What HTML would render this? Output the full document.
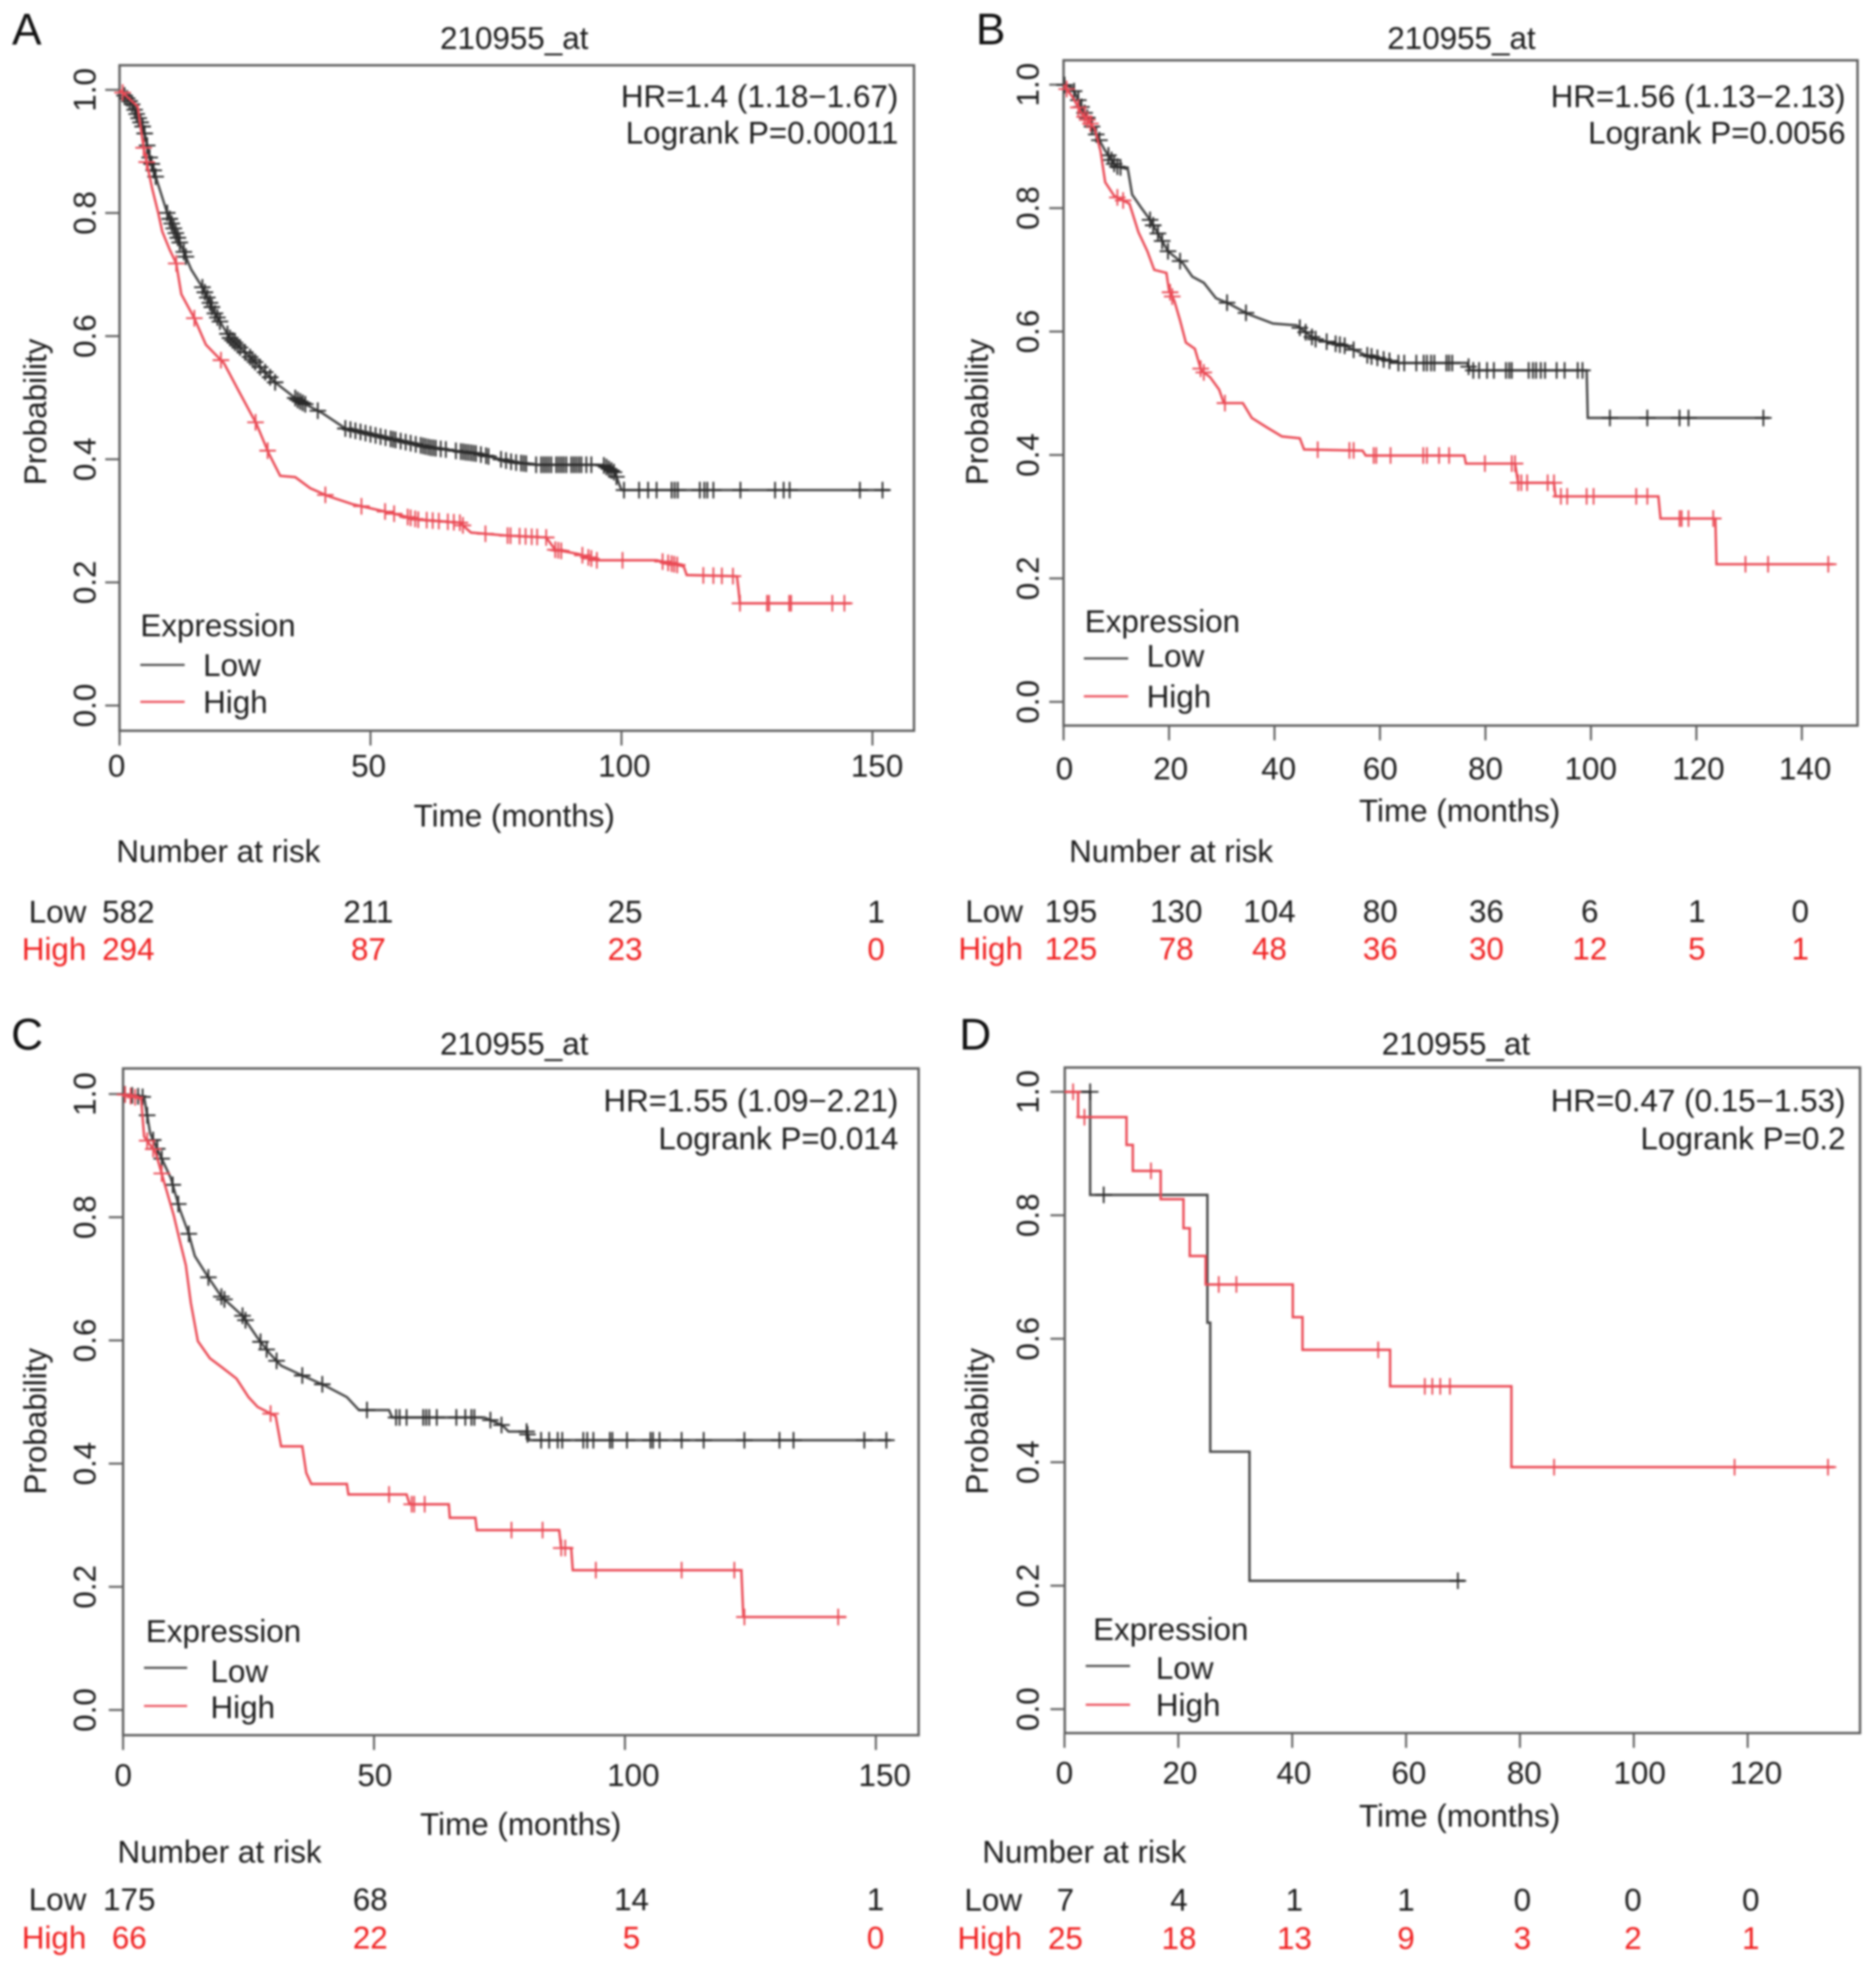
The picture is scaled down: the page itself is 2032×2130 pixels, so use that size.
<!DOCTYPE html>
<html lang="en">
<head>
<meta charset="utf-8">
<title>210955_at Kaplan-Meier survival curves</title>
<style>
html,body{margin:0;padding:0;background:#fff;}
#figure{display:block;width:2032px;height:2130px;filter:blur(1px);}
text{font-family:"Liberation Sans",Arial,sans-serif;font-size:34px;fill:#1c1c1c;}
</style>
</head>
<body>
<svg id="figure" xmlns="http://www.w3.org/2000/svg" width="2032" height="2130" viewBox="0 0 2032 2130"></svg>
<script>
// ---- Panel A data ----
const aLowTimes=[0,2.4,4.8,6,7.7,9.5,11.9,14.3,16.6,19,22,26,31,35.7,40.4,45,53.5,62,71.3,78.5,83.2,96.3,98.7,100,153.4];
const aLowProbs=[1,.978,.937,.89,.846,.8,.754,.708,.678,.637,.597,.566,.525,.495,.475,.45,.434,.419,.409,.395,.391,.391,.378,.35,.35];
const aLowCensor=[1,1.5,2,2.5,3,3.4,3.8,4.2,4.6,5,5.5,6,6.4,6.8,7.2,9.5,10,10.4,10.8,11.2,11.6,12,12.8,13.2,16.5,17,17.5,18,18.4,19,19.5,20,21.5,22,22.5,23,23.5,24,25,26,26.5,27,28,29,30,31,35,35.5,36,36.5,37,39.5,45,46,47,48,49,50,51,52,53,54,54.5,55,56,57,58,59,60,60.5,61,61.5,62,62.5,63,64,65,67,68,68.5,69,69.5,70,70.5,71,72,73,73.5,76,77,78,79,80,80.5,81,83,84,84.5,85,85.5,86,87,87.5,88,88.5,89,90,90.5,91,91.5,92,93,94,96.5,97,97.5,98,98.5,99,100.5,103.5,105.3,107,110,110.6,111.2,115.6,116.5,117.1,118.3,123.7,130.6,132.3,133.5,147.5,152];
const aHighTimes=[0,3.6,4.8,6.5,7.7,8.5,10,11.3,12.3,14.9,17.2,20.8,23.8,27.3,29.7,32,35,38,41.6,46.4,53.5,59.5,67.8,70,77.3,85,86.8,91.5,95,107,112.4,113,123,123.3,123.6,145.7];
const aHighProbs=[1,.973,.906,.84,.8,.77,.74,.718,.668,.629,.586,.556,.51,.457,.41,.373,.371,.353,.34,.327,.314,.302,.297,.281,.276,.273,.253,.246,.236,.236,.226,.212,.21,.19,.166,.166];
const aHighCensor=[.6,4.8,5.4,11.3,14.9,20.2,27.1,29.5,41,48.2,52.9,54.7,57.4,58,58.9,59.5,61.2,62.4,63.6,65.4,66.6,67.8,68.4,72.9,77.3,77.9,79.7,80.9,82.1,83.2,85,86.8,87.4,88,92.2,93.4,94,95.1,100.2,108.2,109.3,110,110.5,111.1,116.3,118.3,120,122.2,123.6,129,129.4,133.4,133.8,142,144.4];
const aXTicks=[0,50,100,150];
const aRiskLow=[582,211,25,1];
const aRiskHigh=[294,87,23,0];

// ---- Panel B data ----
const bLowTimes=[0,1.7,3.4,5.9,7.9,9.9,12.2,13,14.7,16.4,18.1,19.8,22.7,24.4,26.6,28.9,31.2,35.1,39.7,44.2,47.6,53.3,57.3,63.5,76.5,77.1,99.2,99.4,133.8];
const bLowProbs=[1,.995,.964,.924,.893,.868,.863,.822,.801,.781,.756,.73,.71,.689,.679,.654,.646,.628,.613,.61,.588,.577,.562,.549,.549,.537,.537,.46,.46];
const bLowCensor=[.2,2,2.8,3.4,4,4.5,5.4,6.2,6.8,8.5,9.1,9.6,10.2,10.8,16.4,17,17.9,18.7,19.8,22.1,31,34.6,44.8,45.9,47.1,47.8,49.9,51.6,52.4,53.3,55,57.6,58.4,59.5,60.7,61.8,63.5,64.6,66.9,68.3,68.9,69.7,70.3,72.6,73.1,73.7,76.8,77.7,78.8,80.3,81.6,83.9,84.5,85,88.2,89,89.6,90.5,91.3,93.5,95,97.5,98.4,103.6,110.7,116.8,118.5,132.7];
const bHighTimes=[0,1.7,3.4,5.9,7,7.9,9.6,12.5,14.2,15.9,17.2,19.5,20,21,22.1,23.2,24.9,26.1,27.8,29.5,30.4,34,35.7,38.5,41.4,44.8,45.6,56.7,57.3,76,76.3,85.6,86.2,93,93.3,112.8,113.2,123.6,123.8,146];
const bHighProbs=[1,.98,.954,.929,.893,.842,.82,.807,.761,.73,.7,.695,.667,.65,.618,.582,.572,.537,.526,.506,.484,.484,.46,.445,.43,.427,.409,.407,.399,.399,.386,.386,.355,.355,.333,.333,.297,.297,.223,.223];
const bHighCensor=[.6,2.8,4,4.5,5.1,10.2,11.3,20.2,20.6,26,26.6,30.6,48.2,54.2,55,58.8,59.3,62,68.2,68.9,71.2,73.1,79.9,85,85.6,86.2,86.8,87.9,91.8,93,94.3,95.5,99.2,100.5,108.6,110.7,116.8,117.2,118.5,123.2,129.3,133.6,145];
const bXTicks=[0,20,40,60,80,100,120,140];
const bRiskLow=[195,130,104,80,36,6,1,0];
const bRiskHigh=[125,78,48,36,30,12,5,1];

// ---- Panel C data ----
const cLowTimes=[0,4.2,5.4,7.7,9.5,11.3,13.1,14.3,16.7,19.6,23.8,26.8,29.2,31.5,35.7,39.9,44.6,47,53,53.6,72,75.6,76.8,80.4,81,153];
const cLowProbs=[1,.995,.936,.895,.864,.813,.773,.737,.706,.671,.64,.604,.579,.559,.543,.528,.508,.487,.487,.475,.475,.462,.452,.452,.438,.438];
const cLowCensor=[.4,1.8,3,3.9,4.8,6,6.8,7.7,9.9,11,13.1,17,19.6,20.2,23.8,24.4,27.4,28.6,30.6,35.7,39.7,48.6,54.4,55.1,56.5,59.8,60.4,61,62.5,66.4,68.2,69.4,70,73.2,75.4,80.4,80.6,83.3,84.9,86.6,87.5,91.7,92.5,93.7,97,97.5,100.4,105.1,105.6,106.9,111.3,115.7,123.8,130.8,133.6,147.7,152.1];
const cHighTimes=[0,3.6,4.2,6.5,8.3,10.1,11.3,12.5,13.5,14.9,17.3,19.6,22.6,25,26.8,30.4,31.5,35.7,36.5,37.5,44.6,44.9,56.5,57.1,64.9,65.1,70.2,70.5,86.9,87.3,89.3,89.6,123.2,123.6,144];
const cHighProbs=[1,.992,.931,.905,.854,.803,.762,.722,.661,.599,.571,.557,.538,.508,.492,.477,.428,.428,.385,.367,.367,.35,.35,.334,.334,.312,.312,.292,.292,.263,.263,.227,.227,.151,.151];
const cHighCensor=[.4,1.5,2.4,4.8,6,7.7,29.4,53,57.5,58,60.1,77.4,83.6,87.3,88.1,94.2,111.3,121.8,123.8,142.5];
const cXTicks=[0,50,100,150];
const cRiskLow=[175,68,14,1];
const cRiskHigh=[66,22,5,0];

// ---- Panel D data ----
const dLowTimes=[0,4.5,4.5,25.1,25.1,25.6,25.6,32.5,32.5,70.3];
const dLowProbs=[1,1,.833,.833,.626,.626,.417,.417,.208,.208];
const dLowCensor=[4.5,6.9,69.1];
const dHighTimes=[0,2.4,2.4,10.9,10.9,12,12,16.9,16.9,20.9,20.9,22,22,24.8,24.8,40.1,40.1,41.8,41.8,57.2,57.2,78.5,78.5,135.2];
const dHighProbs=[1,1,.959,.959,.914,.914,.872,.872,.826,.826,.779,.779,.734,.734,.688,.688,.635,.635,.582,.582,.523,.523,.392,.392];
const dHighCensor=[1.5,3.5,15.2,27.1,30.2,55.1,63.3,64.6,66,67.7,86,117.7,134.1];
const dXTicks=[0,20,40,60,80,100,120];
const dRiskLow=[7,4,1,1,0,0,0];
const dRiskHigh=[25,18,13,9,3,2,1];

const yTicks=[0,0.2,0.4,0.6,0.8,1.0];

// ---- Layout (pixel geometry, separate from data) ----
const panels=[
 {id:'a',letter:'A',lx:13,ly:48,box:[129.5,70.7,990,791.3],x0:129.5,xT:150,xTpx:945,y1:97.3,y0:764,
  titleX:557,titleY:53,hr:'HR=1.4 (1.18\u22121.67)',lr:'Logrank P=0.00011',hrX:973,hrY:116,lrY:155.5,
  yLabX:103.5,probX:50,probY:446,xLabY:841,xLabX:[126.3,399.3,676.3,950],xTitleX:557,xTitleY:895,
  narX:126,narY:933.6,rowX:93.5,lowY:999,highY:1039.3,riskX:[139,399,677,949],
  legX:152,legY:689,lineX:[152,200],lowLine:720,lowTxtY:732,highLine:760,highTxtY:772,legTxtX:220,
  xTicks:aXTicks,riskLow:aRiskLow,riskHigh:aRiskHigh,
  lowT:aLowTimes,lowP:aLowProbs,lowC:aLowCensor,highT:aHighTimes,highP:aHighProbs,highC:aHighCensor},
 {id:'b',letter:'B',lx:1057,ly:48,box:[1152,65.3,2012,785.7],x0:1152,xT:140,xTpx:1951.7,y1:91.7,y0:760,
  titleX:1583,titleY:53,hr:'HR=1.56 (1.13\u22122.13)',lr:'Logrank P=0.0056',hrX:1999,hrY:116,lrY:155.5,
  yLabX:1125,probX:1070,probY:446,xLabY:844,xLabX:[1153,1268,1385,1495,1609,1723,1839.7,1955.3],xTitleX:1581,xTitleY:889.5,
  narX:1158,narY:933.6,rowX:1108,lowY:998.3,highY:1039,riskX:[1160,1274,1375,1495,1610,1722,1838,1950],
  legX:1175,legY:684.5,lineX:[1174,1222],lowLine:713,lowTxtY:722,highLine:754,highTxtY:766,legTxtX:1242,
  xTicks:bXTicks,riskLow:bRiskLow,riskHigh:bRiskHigh,
  lowT:bLowTimes,lowP:bLowProbs,lowC:bLowCensor,highT:bHighTimes,highP:bHighProbs,highC:bHighCensor},
 {id:'c',letter:'C',lx:12,ly:1136.5,box:[133.3,1157,995,1879],x0:133.3,xT:150,xTpx:948.7,y1:1184.7,y0:1851.7,
  titleX:557,titleY:1142,hr:'HR=1.55 (1.09\u22122.21)',lr:'Logrank P=0.014',hrX:973,hrY:1203.6,lrY:1244.5,
  yLabX:103.3,probX:50,probY:1539,xLabY:1934,xLabX:[133.5,406,686,958.3],xTitleX:564,xTitleY:1987,
  narX:127.3,narY:2017,rowX:93.5,lowY:2068.3,highY:2110,riskX:[140,401,684,948.3],
  legX:158,legY:1778,lineX:[156,202.7],lowLine:1806,lowTxtY:1821.6,highLine:1847.3,highTxtY:1860.7,legTxtX:228,
  xTicks:cXTicks,riskLow:cRiskLow,riskHigh:cRiskHigh,
  lowT:cLowTimes,lowP:cLowProbs,lowC:cLowCensor,highT:cHighTimes,highP:cHighProbs,highC:cHighCensor},
 {id:'d',letter:'D',lx:1039,ly:1136.7,box:[1153.3,1156,2014.7,1876.7],x0:1153,xT:120,xTpx:1893,y1:1182.3,y0:1850.8,
  titleX:1577,titleY:1142,hr:'HR=0.47 (0.15\u22121.53)',lr:'Logrank P=0.2',hrX:1999,hrY:1203.6,lrY:1244.5,
  yLabX:1125,probX:1070,probY:1539,xLabY:1931.7,xLabX:[1153,1278,1401.5,1526,1651,1776,1902],xTitleX:1581,xTitleY:1978,
  narX:1064,narY:2017,rowX:1107,lowY:2069,highY:2110.7,riskX:[1154,1277,1402,1523,1649,1768.7,1896.3],
  legX:1184,legY:1776,lineX:[1176,1224],lowLine:1804,lowTxtY:1818,highLine:1846,highTxtY:1858,legTxtX:1252,
  xTicks:dXTicks,riskLow:dRiskLow,riskHigh:dRiskHigh,
  lowT:dLowTimes,lowP:dLowProbs,lowC:dLowCensor,highT:dHighTimes,highP:dHighProbs,highC:dHighCensor}
];

const NS='http://www.w3.org/2000/svg';
const root=document.getElementById('figure');
const LOW_COLOR='#474747',LOW_MARK='#2a2a2a',HIGH_COLOR='#ea4a55',AXIS_COLOR='#5f5f5f',RED_TEXT='#f02020';

function label(parent,name,str,x,y,anchor,fill,size,rot){
  const el=document.createElementNS(NS,'text');
  
  
  el.setAttribute('x',x);
  el.setAttribute('y',y);
  el.setAttribute('text-anchor',anchor||'start');
  if(fill)el.style.fill=fill;
  if(size)el.style.fontSize=size+'px';
  if(rot)el.setAttribute('transform','rotate(-90 '+x+' '+y+')');
  el.textContent=str;
  parent.appendChild(el);
  return el;
}
function seg(parent,name,x1,y1,x2,y2,color,w){
  const el=document.createElementNS(NS,'line');
  
  
  el.setAttribute('x1',x1);el.setAttribute('y1',y1);
  el.setAttribute('x2',x2);el.setAttribute('y2',y2);
  el.setAttribute('stroke',color);
  el.setAttribute('stroke-width',w);
  parent.appendChild(el);
  return el;
}
function survivalAt(ts,ps,t){
  if(t<=ts[0])return ps[0];
  for(let i=1;i<ts.length;i++){
    if(t<=ts[i]){
      if(ps[i]===ps[i-1])return ps[i];
      return ps[i-1]+(ps[i]-ps[i-1])*(t-ts[i-1])/(ts[i]-ts[i-1]);
    }
  }
  return ps[ps.length-1];
}
function drawSeries(g,key,ts,ps,cs,color,markColor,sx,sy){
  const curve=document.createElementNS(NS,'polyline');
  
  
  curve.setAttribute('fill','none');
  curve.setAttribute('stroke',color);
  curve.setAttribute('stroke-width','2.6');
  curve.setAttribute('stroke-linejoin','miter');
  curve.setAttribute('points',ts.map((t,i)=>sx(t).toFixed(1)+','+sy(ps[i]).toFixed(1)).join(' '));
  g.appendChild(curve);
  const marks=document.createElementNS(NS,'path');
  
  
  marks.setAttribute('fill','none');
  marks.setAttribute('stroke',markColor);
  marks.setAttribute('stroke-width','1.9');
  marks.setAttribute('d',cs.map(t=>{
    const x=sx(t),y=sy(survivalAt(ts,ps,t));
    return 'M'+(x-9).toFixed(1)+' '+y.toFixed(1)+'H'+(x+9).toFixed(1)+'M'+x.toFixed(1)+' '+(y-9).toFixed(1)+'V'+(y+9).toFixed(1);
  }).join(''));
  g.appendChild(marks);
}

panels.forEach(p=>{
  const g=document.createElementNS(NS,'g');
  
  
  root.appendChild(g);
  const sx=t=>p.x0+(p.xTpx-p.x0)*t/p.xT;
  const sy=v=>p.y0+(p.y1-p.y0)*v;

  label(g,'panel-letter-'+p.id,p.letter,p.lx,p.ly,'start','#111',48);
  label(g,'chart-title',"210955_at",p.titleX,p.titleY,'middle');

  const frame=document.createElementNS(NS,'rect');
  
  
  frame.setAttribute('x',p.box[0]);
  frame.setAttribute('y',p.box[1]);
  frame.setAttribute('width',p.box[2]-p.box[0]);
  frame.setAttribute('height',p.box[3]-p.box[1]);
  frame.setAttribute('fill','none');
  frame.setAttribute('stroke',AXIS_COLOR);
  frame.setAttribute('stroke-width','2.6');
  g.appendChild(frame);

  yTicks.forEach(v=>{
    seg(g,'y-tick',p.box[0]-15.5,sy(v),p.box[0],sy(v),AXIS_COLOR,2.2);
    label(g,'y-tick-label',v.toFixed(1),p.yLabX,sy(v),'middle',null,null,true);
  });
  p.xTicks.forEach((t,i)=>{
    seg(g,'x-tick',sx(t),p.box[3],sx(t),p.box[3]+16,AXIS_COLOR,2.2);
    label(g,'x-tick-label',String(t),p.xLabX[i],p.xLabY,'middle');
  });
  label(g,'y-axis-title','Probability',p.probX,p.probY,'middle',null,null,true);
  label(g,'x-axis-title','Time (months)',p.xTitleX,p.xTitleY,'middle');

  label(g,'hazard-ratio',p.hr,p.hrX,p.hrY,'end');
  label(g,'logrank-p',p.lr,p.hrX,p.lrY,'end');

  drawSeries(g,'low',p.lowT,p.lowP,p.lowC,LOW_COLOR,LOW_MARK,sx,sy);
  drawSeries(g,'high',p.highT,p.highP,p.highC,HIGH_COLOR,HIGH_COLOR,sx,sy);

  label(g,'legend-title','Expression',p.legX,p.legY);
  seg(g,'legend-line-low',p.lineX[0],p.lowLine,p.lineX[1],p.lowLine,LOW_COLOR,2.2);
  label(g,'legend-label-low','Low',p.legTxtX,p.lowTxtY);
  seg(g,'legend-line-high',p.lineX[0],p.highLine,p.lineX[1],p.highLine,HIGH_COLOR,2.2);
  label(g,'legend-label-high','High',p.legTxtX,p.highTxtY);

  label(g,'number-at-risk-title','Number at risk',p.narX,p.narY);
  label(g,'risk-row-label-low','Low',p.rowX,p.lowY,'end');
  label(g,'risk-row-label-high','High',p.rowX,p.highY,'end',RED_TEXT);
  p.riskLow.forEach((n,i)=>{
    label(g,'risk-count-low',String(n),p.riskX[i],p.lowY,'middle');
  });
  p.riskHigh.forEach((n,i)=>{
    label(g,'risk-count-high',String(n),p.riskX[i],p.highY,'middle',RED_TEXT);
  });
});
</script>
</body>
</html>
